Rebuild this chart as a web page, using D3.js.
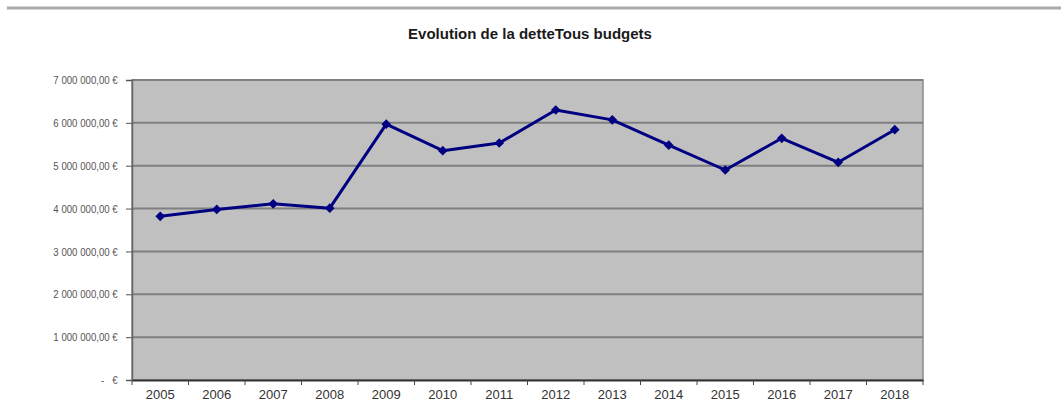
<!DOCTYPE html>
<html>
<head>
<meta charset="utf-8">
<script src="https://cdn.jsdelivr.net/npm/d3@7"></script>
<style>
  body { margin: 0; background: #fff; }
  svg { display: block; font-family: "Liberation Sans", Arial, sans-serif; }
</style>
</head>
<body>
<div id="chart"></div>
<script>
// Chart data
const title = "Evolution de la detteTous budgets";
const years = ["2005", "2006", "2007", "2008", "2009", "2010", "2011",
               "2012", "2013", "2014", "2015", "2016", "2017", "2018"];
const debt = [3820000, 3980000, 4110000, 4010000, 5970000, 5350000, 5530000,
              6300000, 6070000, 5480000, 4900000, 5640000, 5080000, 5840000];
const yTicks = [0, 1000000, 2000000, 3000000, 4000000, 5000000, 6000000, 7000000];

const W = 1061, H = 416;
const margin = { top: 80, right: 138, bottom: 36, left: 132 };
const width = W - margin.left - margin.right;
const height = H - margin.top - margin.bottom;

const svg = d3.select("#chart").append("svg")
    .attr("width", W)
    .attr("height", H);

// grey rule across the top
svg.append("line")
    .attr("x1", 7).attr("x2", W)
    .attr("y1", 8).attr("y2", 8)
    .attr("stroke", "#aaa")
    .attr("stroke-width", 3);

svg.append("text")
    .attr("x", 530)
    .attr("y", 39)
    .attr("text-anchor", "middle")
    .attr("font-size", "15px")
    .attr("font-weight", "bold")
    .attr("fill", "#1a1a1a")
    .text(title);

const g = svg.append("g").attr("transform", `translate(${margin.left},${margin.top})`);

const x = d3.scaleBand().domain(years).range([0, width]);
const y = d3.scaleLinear().domain([0, 7000000]).range([height, 0]);

// plot background
g.append("rect")
    .attr("width", width)
    .attr("height", height)
    .attr("fill", "#c0c0c0")
    .attr("stroke", "#8a8a8a")
    .attr("stroke-width", 1.5);

// gridlines
g.selectAll(".grid")
    .data(yTicks.filter(d => d > 0))
    .enter().append("line")
    .attr("x1", 0).attr("x2", width)
    .attr("y1", d => y(d)).attr("y2", d => y(d))
    .attr("stroke", "#7f7f7f")
    .attr("stroke-width", 2);

// euro format like "7 000 000,00 €"
const fmt = d => {
    if (d === 0) return "-   €";
    return d3.format(",.2f")(d).replace(/,/g, " ").replace(".", ",") + " €";
};

const yAxis = g.append("g")
    .call(d3.axisLeft(y).tickValues(yTicks).tickFormat(fmt).tickSize(6).tickPadding(11));
yAxis.select(".domain").attr("stroke", "#666").attr("stroke-width", 1.5);
yAxis.selectAll(".tick line").attr("stroke", "#555");
yAxis.selectAll(".tick text")
    .attr("font-size", "11.5px")
    .attr("fill", "#555")
    .attr("font-family", "'Liberation Sans', Arial, sans-serif")
    .attr("transform", "scale(0.84,1)")
    .style("white-space", "pre");

const xAxis = g.append("g")
    .attr("transform", `translate(0,${height})`)
    .call(d3.axisBottom(x).tickSize(0).tickPadding(10));
xAxis.select(".domain").attr("stroke", "#333").attr("stroke-width", 2);
xAxis.selectAll(".tick text")
    .attr("font-size", "13px")
    .attr("fill", "#333");

// tick marks at category boundaries
g.selectAll(".xtick")
    .data(years.concat(["end"]))
    .enter().append("line")
    .attr("x1", (d, i) => i * x.step()).attr("x2", (d, i) => i * x.step())
    .attr("y1", height).attr("y2", height + 5)
    .attr("stroke", "#444");

// the series
const line = d3.line()
    .x((d, i) => x(years[i]) + x.bandwidth() / 2)
    .y(d => y(d));

g.append("path")
    .datum(debt)
    .attr("d", line)
    .attr("fill", "none")
    .attr("stroke", "#000080")
    .attr("stroke-width", 3)
    .attr("stroke-linejoin", "round");

g.selectAll(".marker")
    .data(debt)
    .enter().append("path")
    .attr("transform", (d, i) => `translate(${x(years[i]) + x.bandwidth() / 2},${y(d)})`)
    .attr("d", d3.symbol(d3.symbolDiamond2, 60))
    .attr("fill", "#000080");
</script>
</body>
</html>
